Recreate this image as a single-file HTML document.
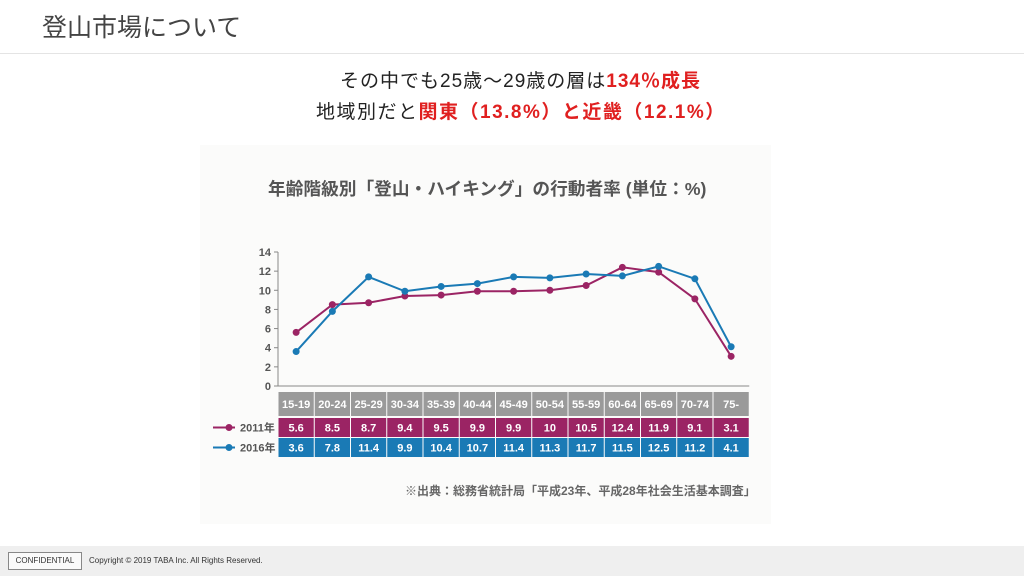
<!DOCTYPE html>
<html><head><meta charset="utf-8">
<style>
body{margin:0;width:1024px;height:576px;position:relative;background:#fff;overflow:hidden;font-family:"Liberation Sans","Noto Sans CJK JP",sans-serif}
.a{position:absolute;white-space:nowrap}
</style></head><body>
<div class="a" style="left:42px;top:8px;font-size:25px;color:#444">登山市場について</div>
<div class="a" style="left:0;top:53px;width:1024px;height:1px;background:#e4e4e4"></div>
<div class="a" style="left:340px;top:66px;font-size:19px;letter-spacing:1px;color:#222">その中でも25歳～29歳の層は<b style="color:#e02020">134％成長</b></div>
<div class="a" style="left:316px;top:97px;font-size:19px;letter-spacing:1.5px;color:#222">地域別だと<b style="color:#e02020">関東（13.8%）と近畿（12.1%）</b></div>
<div class="a" style="left:200px;top:145px;width:571px;height:379px;background:#fbfbfa"></div>
<div class="a" style="left:268px;top:175px;font-size:17.7px;font-weight:bold;color:#555">年齢階級別「登山・ハイキング」の行動者率 (単位：%)</div>
<svg class="a" style="left:0;top:0" width="1024" height="576" id="chart"></svg>
<div class="a" style="left:405px;top:482px;font-size:12px;font-weight:bold;color:#666">※出典：総務省統計局「平成23年、平成28年社会生活基本調査」</div>
<div class="a" style="left:0;top:546px;width:1024px;height:30px;background:#efefef"></div>
<div class="a" style="left:8px;top:552px;width:72px;height:16px;border:1px solid #888;font-size:8px;line-height:16px;text-align:center;color:#333;background:#fafafa">CONFIDENTIAL</div>
<div class="a" style="left:89px;top:556px;font-size:8px;color:#333">Copyright © 2019 TABA Inc. All Rights Reserved.</div>
<script>
const categories=["15-19","20-24","25-29","30-34","35-39","40-44","45-49","50-54","55-59","60-64","65-69","70-74","75-"];
const s2011=[5.6,8.5,8.7,9.4,9.5,9.9,9.9,10,10.5,12.4,11.9,9.1,3.1];
const s2016=[3.6,7.8,11.4,9.9,10.4,10.7,11.4,11.3,11.7,11.5,12.5,11.2,4.1];
const yTicks=[0,2,4,6,8,10,12,14];
const svg=document.getElementById('chart');const NS='http://www.w3.org/2000/svg';
function mk(t,a,p){const e=document.createElementNS(NS,t);for(const k in a)e.setAttribute(k,a[k]);(p||svg).appendChild(e);return e;}
const x0=278,cw=36.25,yb=386,yt=252;
const X=i=>x0+cw*(i+0.5);
const Y=v=>yb-(v-0)/(14-0)*(yb-yt);
let e=mk('line',{x1:x0,y1:yt,x2:x0,y2:yb,stroke:'#888','stroke-width':1});

e=mk('line',{x1:x0,y1:yb,x2:x0+cw*13,y2:yb,stroke:'#888','stroke-width':1});

yTicks.forEach(v=>{
 mk('line',{x1:x0-4,y1:Y(v),x2:x0,y2:Y(v),stroke:'#888'});
 const t=mk('text',{x:x0-7,y:Y(v)+4,'text-anchor':'end','font-size':11,'font-weight':'bold',fill:'#555'});t.textContent=v;
 
});
function series(d,c,name){
 const p=mk('polyline',{points:d.map((v,i)=>X(i)+','+Y(v)).join(' '),fill:'none',stroke:c,'stroke-width':2});
 
 d.forEach((v,i)=>{const c2=mk('circle',{cx:X(i),cy:Y(v),r:3.5,fill:c});
  });
}
series(s2011,'#9b2464','s2011');
series(s2016,'#1a7ab5','s2016');
const rows=[[null,'#9a9a9a',392,24],[s2011,'#9b2464',418,19],[s2016,'#1a7ab5',438,19]];
rows.forEach((r,ri)=>{
 categories.forEach((c,i)=>{
  const rc=mk('rect',{x:x0+cw*i+0.5,y:r[2],width:cw-1,height:r[3],fill:r[1]});
  
  const t=mk('text',{x:X(i),y:r[2]+r[3]/2+4,'text-anchor':'middle','font-size':11,'font-weight':'bold',fill:'#fff'});
  t.textContent=ri==0?c:r[0][i];
  
 });
});
[['2011年','#9b2464',427.5],['2016年','#1a7ab5',447.5]].forEach(l=>{
 const g=mk('g',{});
 mk('line',{x1:213,y1:l[2],x2:235,y2:l[2],stroke:l[1],'stroke-width':2},g);
 mk('circle',{cx:229,cy:l[2],r:3.5,fill:l[1]},g);
 const t=mk('text',{x:240,y:l[2]+4,'font-size':11,'font-weight':'bold',fill:'#555'},g);t.textContent=l[0];
});
</script>
</body></html>
